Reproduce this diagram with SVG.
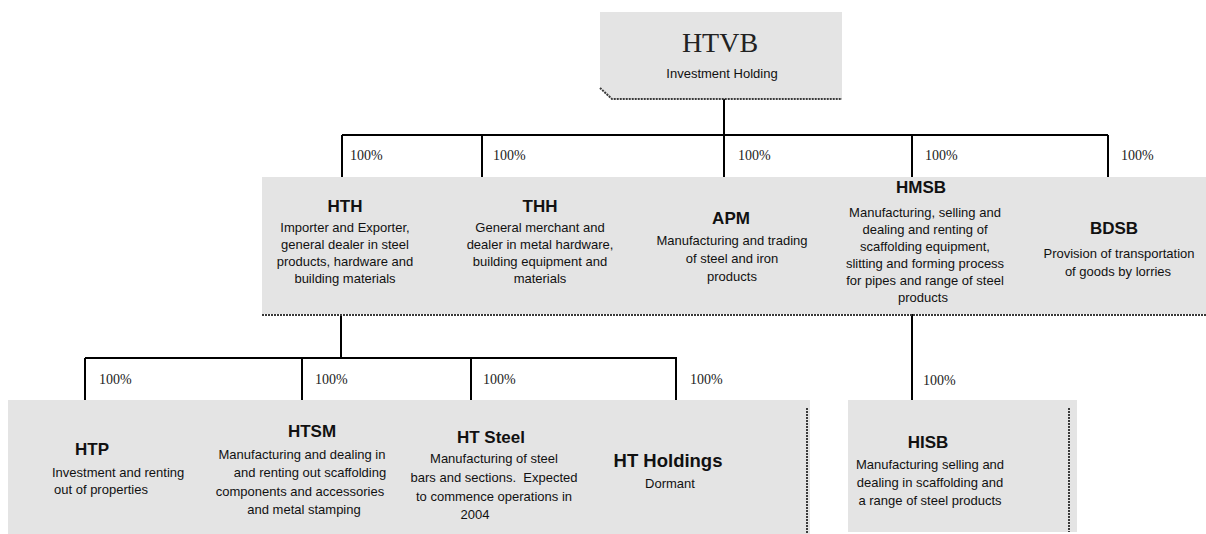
<svg xmlns="http://www.w3.org/2000/svg" width="1206" height="534" viewBox="0 0 1206 534">
<style>
.box{fill:#e4e4e4;stroke:none}
.shadow{stroke:#3a3a3a;stroke-width:2;stroke-dasharray:2 1;fill:none}
.conn{stroke:#000;stroke-width:2;fill:none}
.t{font-family:"Liberation Sans",Arial,sans-serif;font-weight:bold;font-size:17px;fill:#111;text-anchor:middle}
.d{font-family:"Liberation Sans",Arial,sans-serif;font-size:13px;fill:#111;text-anchor:middle;white-space:pre}
.p{font-family:"Liberation Serif","Times New Roman",serif;font-size:14px;fill:#222}
.top{font-family:"Liberation Serif","Times New Roman",serif;font-size:28px;fill:#222;text-anchor:middle}
</style>
<rect width="1206" height="534" fill="#fff"/>

<g id="connectors">
<path class="conn" d="M724,99 V178 M342,135 H1108 M342,135 V178 M482,135 V178 M912,135 V178 M1108,135 V178"/>
<path class="conn" d="M341,314 V358 M85,358 H677 M85,358 V400 M302,358 V400 M471,358 V400 M676,358 V400"/>
<path class="conn" d="M912,314 V400"/>
<text class="p" x="350" y="160">100%</text>
<text class="p" x="493" y="160">100%</text>
<text class="p" x="738" y="160">100%</text>
<text class="p" x="925" y="160">100%</text>
<text class="p" x="1121" y="160">100%</text>
<text class="p" x="99" y="384">100%</text>
<text class="p" x="315" y="384">100%</text>
<text class="p" x="483" y="384">100%</text>
<text class="p" x="690" y="384">100%</text>
<text class="p" x="923" y="385">100%</text>
</g>

<g id="HTVB">
<path class="box" d="M600,12 H842 V99 H612 L600,88 Z"/>
<path class="shadow" d="M600,88 L612,99 H842"/>
<text class="top" x="720" y="52">HTVB</text>
<text class="d" x="722" y="78">Investment Holding</text>
</g>

<g id="row1">
<rect class="box" x="262" y="177" width="944" height="137"/>
<path class="shadow" d="M262,315 H1206"/>
</g>

<g id="HTH">
<text class="t" x="345" y="212">HTH</text>
<text class="d" x="345" y="232">Importer and Exporter,</text>
<text class="d" x="345" y="249">general dealer in steel</text>
<text class="d" x="345" y="266">products, hardware and</text>
<text class="d" x="345" y="283">building materials</text>
</g>

<g id="THH">
<text class="t" x="540" y="212">THH</text>
<text class="d" x="540" y="232">General merchant and</text>
<text class="d" x="540" y="249">dealer in metal hardware,</text>
<text class="d" x="540" y="266">building equipment and</text>
<text class="d" x="540" y="283">materials</text>
</g>

<g id="APM">
<text class="t" x="731" y="224">APM</text>
<text class="d" x="732" y="245">Manufacturing and trading</text>
<text class="d" x="732" y="263">of steel and iron</text>
<text class="d" x="732" y="281">products</text>
</g>

<g id="HMSB">
<text class="t" x="921" y="193">HMSB</text>
<text class="d" x="925" y="217">Manufacturing, selling and</text>
<text class="d" x="925" y="234">dealing and renting of</text>
<text class="d" x="925" y="251">scaffolding equipment,</text>
<text class="d" x="925" y="268">slitting and forming process</text>
<text class="d" x="925" y="285">for pipes and range of steel</text>
<text class="d" x="923" y="302">products</text>
</g>

<g id="BDSB">
<text class="t" x="1114" y="234">BDSB</text>
<text class="d" x="1119" y="258">Provision of transportation</text>
<text class="d" x="1118" y="276">of goods by lorries</text>
</g>

<g id="row2">
<rect class="box" x="8" y="400" width="802" height="134"/>
<path class="shadow" d="M807,408 V534"/>
</g>

<g id="HTP">
<text class="t" x="92" y="455">HTP</text>
<text class="d" x="52" y="477" style="text-anchor:start">Investment and renting</text>
<text class="d" x="54" y="494" style="text-anchor:start">out of properties</text>
</g>

<g id="HTSM">
<text class="t" x="312" y="437">HTSM</text>
<text class="d" x="302" y="459">Manufacturing and dealing in</text>
<text class="d" x="310" y="477">and renting out scaffolding</text>
<text class="d" x="300" y="496">components and accessories</text>
<text class="d" x="304" y="514">and metal stamping</text>
</g>

<g id="HTSteel">
<text class="t" x="491" y="443">HT Steel</text>
<text class="d" x="494" y="463">Manufacturing of steel</text>
<text class="d" x="494" y="482">bars and sections.  Expected</text>
<text class="d" x="494" y="501">to commence operations in</text>
<text class="d" x="475" y="519">2004</text>
</g>

<g id="HTHoldings">
<text class="t" x="668" y="467" style="font-size:18.5px">HT Holdings</text>
<text class="d" x="670" y="488">Dormant</text>
</g>

<g id="HISB">
<rect class="box" x="848" y="400" width="229" height="132"/>
<path class="shadow" d="M1069,408 V532"/>
<text class="t" x="928" y="448">HISB</text>
<text class="d" x="930" y="469">Manufacturing selling and</text>
<text class="d" x="930" y="487">dealing in scaffolding and</text>
<text class="d" x="930" y="505">a range of steel products</text>
</g>
</svg>
